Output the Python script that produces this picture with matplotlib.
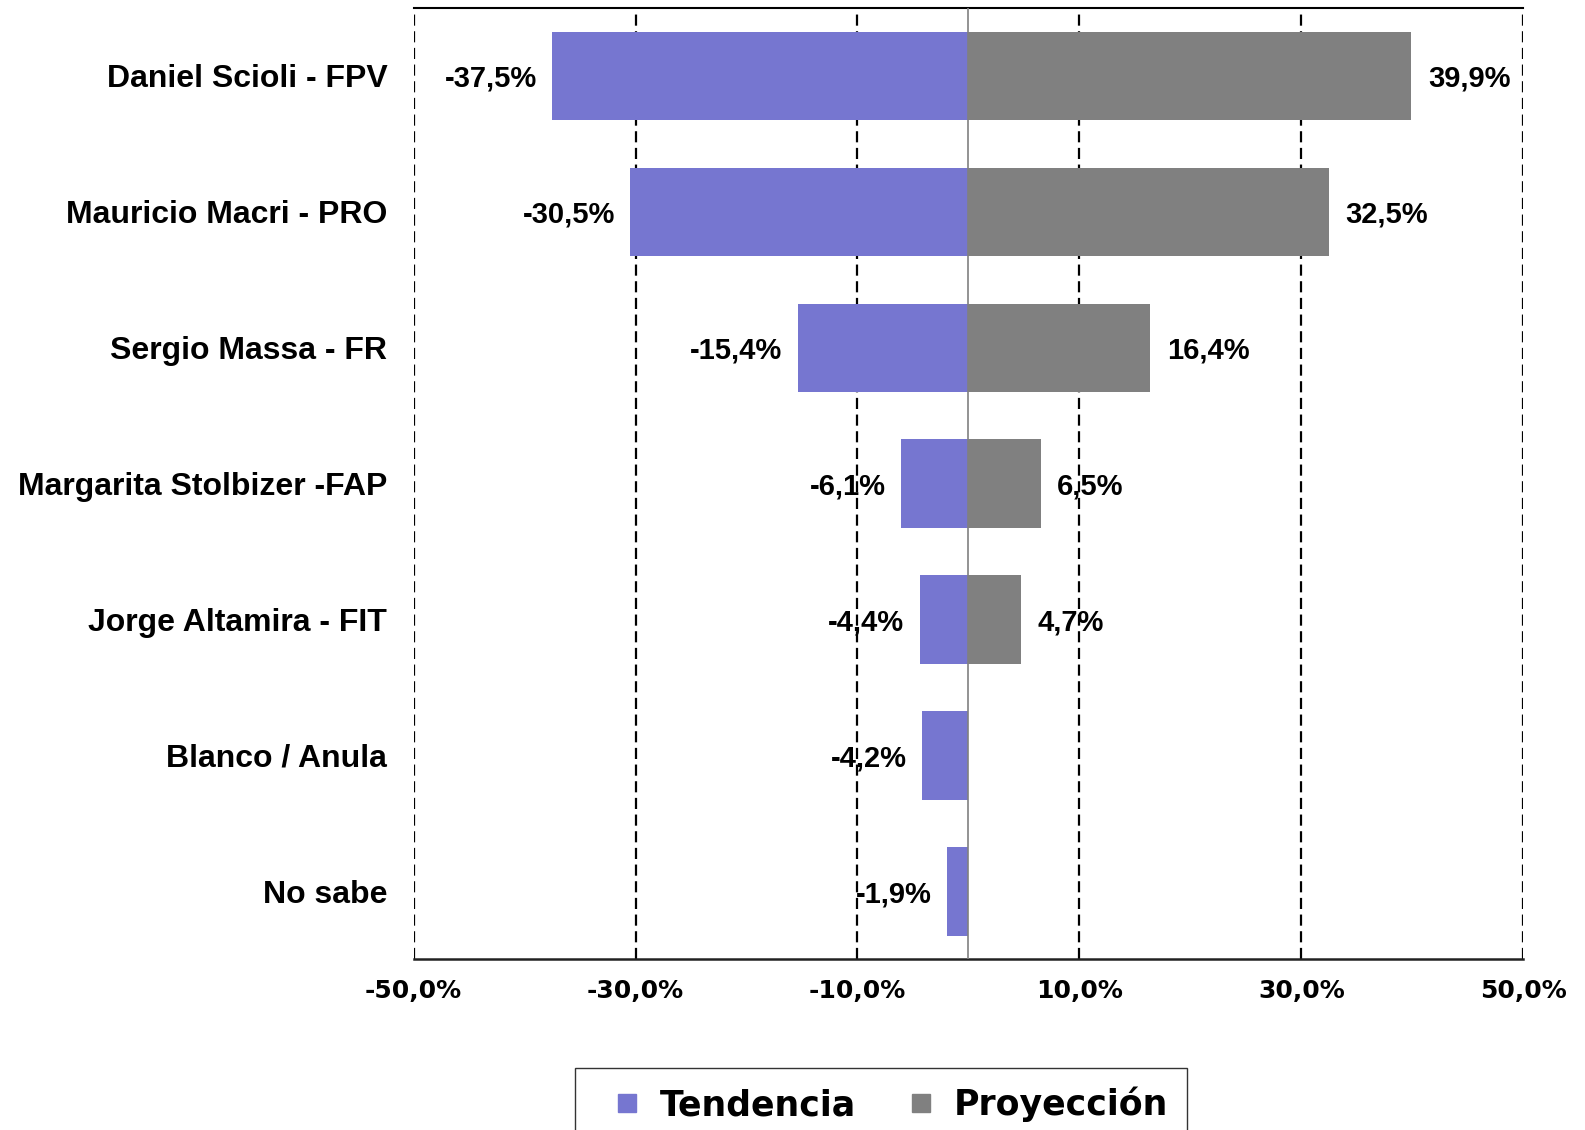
import matplotlib.pyplot as plt
from matplotlib.lines import Line2D

categorias = ["Daniel Scioli - FPV", "Mauricio Macri - PRO", "Sergio Massa - FR",
              "Margarita Stolbizer -FAP", "Jorge Altamira - FIT", "Blanco / Anula", "No sabe"]
tendencia = [-37.5, -30.5, -15.4, -6.1, -4.4, -4.2, -1.9]
proyeccion = [39.9, 32.5, 16.4, 6.5, 4.7, None, None]
ticks = [-50, -30, -10, 10, 30, 50]

c_tend = "#7676D0"
c_proy = "#808080"

fig = plt.figure(figsize=(15.85, 11.3), dpi=100)
ax = fig.add_axes([0.261, 0.151, 0.700, 0.842])

y = list(range(len(categorias)))
ax.barh(y, tendencia, height=0.65, color=c_tend, zorder=3)
for i, v in enumerate(proyeccion):
    if v is not None:
        ax.barh(i, v, height=0.65, color=c_proy, zorder=3)

# data labels
for i, v in enumerate(tendencia):
    ax.annotate(f"{v:.1f}%".replace(".", ","), (v, i), xytext=(-11, -2),
                textcoords="offset points", ha="right", va="center",
                fontsize=21, fontweight="bold", family="Liberation Sans", zorder=1)
for i, v in enumerate(proyeccion):
    if v is not None:
        ax.annotate(f"{v:.1f}%".replace(".", ","), (v, i), xytext=(12, -2),
                    textcoords="offset points", ha="left", va="center",
                    fontsize=21, fontweight="bold", family="Liberation Sans", zorder=1)

# dashed gridlines, solid zero line
for t in ticks:
    ax.axvline(t, color="black", lw=1.6, ls=(0, (5, 2.5)), zorder=2)
ax.axvline(0, color="#808080", lw=1.2, zorder=4)

ax.set_xlim(-50, 50)
ax.set_ylim(len(categorias) - 0.5, -0.5)
ax.set_xticks(ticks)
ax.set_xticklabels([f"{t:.1f}%".replace(".", ",") for t in ticks],
                   fontsize=18, fontweight="bold", family="DejaVu Sans")
ax.set_yticks(y)
ax.set_yticklabels(categorias, fontsize=23, fontweight="bold", family="Liberation Sans")
ax.tick_params(axis="both", length=0)
ax.tick_params(axis="y", pad=19)
ax.tick_params(axis="x", pad=14)

ax.spines["left"].set_visible(False)
ax.spines["right"].set_visible(False)
ax.spines["top"].set_linewidth(1.5)
ax.spines["bottom"].set_linewidth(1.8)
ax.spines["bottom"].set_color("#222222")

handles = [Line2D([], [], marker="s", ls="none", color=c_tend, markersize=13),
           Line2D([], [], marker="s", ls="none", color=c_proy, markersize=13)]
leg = fig.legend(handles, ["Tendencia", "Proyección"], loc="upper center",
                 bbox_to_anchor=(0.556, 0.055), ncol=2, frameon=True, fancybox=False,
                 prop={"family": "DejaVu Sans", "weight": "bold", "size": 25},
                 handletextpad=0.0, columnspacing=0.9, borderpad=0.55,
                 handlelength=1.9, borderaxespad=0)
leg.get_frame().set_edgecolor("black")
leg.get_frame().set_linewidth(1.0)

fig.savefig("out.png", dpi=100)
